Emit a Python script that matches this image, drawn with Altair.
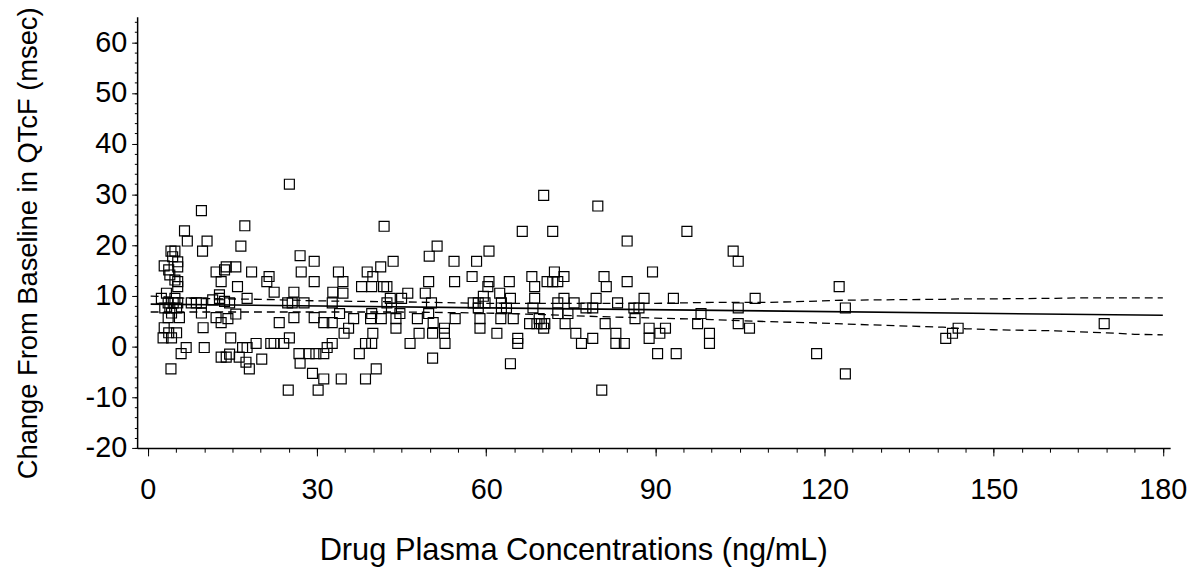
import altair as alt
import pandas as pd

# ---- data ----
conc = [
    # 0-15 ng/mL
    9.5, 6.5, 7.0, 10.5, 9.7, 4.1, 4.8, 4.4, 5.3, 2.9, 5.3, 3.7, 3.9, 4.8, 5.3, 5.3, 3.3, 2.4, 4.8,
    3.6, 4.5, 5.3, 3.0, 3.9, 5.1, 4.2, 5.6, 3.6, 2.9, 3.7, 5.1, 2.7, 4.2, 6.8, 5.9, 4.1, 10.0, 9.8,
    7.7, 8.6, 9.5, 11.5, 12.7, 13.6, 12.7, 12.1, 13.0, 9.5, 13.6, 12.1, 13.0, 13.9, 13.0, 13.9, 14.5, 14.2,
    # 15-32 ng/mL
    25.1, 17.2, 16.5, 27.0, 29.5, 15.6, 18.4, 27.2, 21.5, 21.1, 29.5, 15.9, 22.4, 25.9, 32.8, 17.6,
    24.8, 25.6, 27.7, 32.7, 14.5, 15.6, 25.9, 23.3, 29.5, 31.2, 14.7, 16.8, 17.6, 19.2, 21.8, 22.4,
    24.1, 25.1, 16.2, 20.2, 17.4, 18.0, 26.8, 28.6, 29.8, 31.2, 31.8, 27.0, 29.2, 31.2, 24.9, 30.2,
    # 32-65 ng/mL
    41.9, 51.3, 49.9, 60.5, 43.5, 41.3, 33.8, 38.9, 54.3, 58.3, 39.9, 34.6, 37.9, 39.7, 41.8, 42.4,
    49.8, 54.4, 57.5, 60.5, 64.1, 60.3, 34.6, 46.1, 49.2, 62.4, 64.3, 43.0, 45.0, 59.5, 42.4, 50.3,
    57.7, 58.6, 59.8, 62.7, 58.6, 62.7, 63.6, 34.0, 39.7, 43.2, 49.8, 44.7, 32.7, 36.5, 39.5, 41.4,
    44.0, 44.0, 47.8, 50.6, 54.5, 58.9, 58.9, 62.6, 64.8, 35.6, 34.8, 39.9, 48.1, 50.5, 52.6, 52.6,
    61.9, 32.7, 38.6, 39.7, 46.5, 52.7, 37.5, 50.5, 64.3, 40.5, 34.3, 38.6,
    # 65-100 ng/mL
    70.2, 79.8, 66.4, 71.8, 95.6, 85.0, 89.5, 72.1, 68.1, 73.8, 80.9, 70.8, 71.8, 72.7, 68.6, 81.3,
    85.0, 68.6, 73.8, 79.5, 88.0, 93.2, 72.7, 75.6, 83.3, 68.3, 77.7, 78.9, 86.2, 87.1, 72.7, 74.5,
    98.1, 69.4, 86.4, 67.7, 69.0, 69.8, 70.4, 70.2, 74.0, 81.1, 97.5, 75.9, 83.0, 88.9, 88.9, 91.8,
    90.8, 65.6, 65.6, 76.9, 78.9, 83.0, 84.5, 90.4, 93.7, 80.5, 99.6, 99.6,
    # > 100 ng/mL
    103.8, 104.7, 122.6, 107.7, 104.7, 123.7, 104.7, 106.7, 118.6, 123.7, 141.5, 142.7, 143.7, 169.6,
]
qtcf = [
    # 0-15 ng/mL
    26.8, 22.8, 20.8, 20.8, 18.8, 18.8, 18.8, 17.7, 16.7, 15.9, 15.7, 15.1, 14.1, 13.1, 12.8, 11.8, 10.5, 9.5, 9.5,
    8.6, 8.6, 8.6, 7.6, 7.6, 7.6, 6.6, 5.7, 5.7, 3.7, 2.7, 2.7, 1.7, 1.7, -0.2, -1.4, -4.4, -0.2, 3.7,
    8.6, 8.6, 8.6, 9.2, 9.5, 8.9, 10.2, 5.7, 4.7, 6.6, 15.1, 14.7, 12.8, 15.7, -2.1, -2.1, -1.5, 5.5,
    # 15-32 ng/mL
    32.0, 23.8, 19.8, 17.9, 16.8, 15.7, 14.7, 14.7, 13.8, 12.8, 12.8, 11.8, 10.7, 10.7, 10.7, 9.5,
    8.6, 8.6, 8.6, 8.6, 8.6, 6.4, 5.7, 4.7, 5.7, 4.7, 1.7, -0.2, -0.2, 0.6, 0.6, 0.6,
    0.6, 1.7, -2.1, -2.5, -3.1, -4.4, -1.4, -1.4, -1.4, -1.4, -0.2, -3.3, -5.3, -6.4, -8.6, -8.6,
    # 32-65 ng/mL
    23.7, 19.8, 17.8, 18.8, 16.8, 15.7, 14.7, 14.7, 16.8, 16.8, 13.8, 12.8, 11.8, 11.8, 11.8, 11.8,
    12.8, 12.8, 13.8, 12.8, 12.8, 11.8, 10.5, 10.5, 10.5, 10.5, 9.5, 9.5, 9.5, 9.9, 8.6, 8.6,
    8.6, 8.6, 8.6, 8.6, 7.6, 7.6, 7.6, 6.5, 6.5, 7.6, 6.5, 6.5, 4.7, 5.5, 5.5, 5.5,
    5.5, 3.6, 5.5, 4.7, 5.5, 5.5, 3.6, 5.5, 5.5, 3.6, 2.6, 2.6, 2.6, 2.6, 2.6, 3.6,
    2.6, 0.6, 0.6, 0.6, 0.6, 0.6, -1.4, -2.3, -3.4, -4.4, -6.4, -6.4,
    # 65-100 ng/mL
    29.8, 27.7, 22.7, 22.7, 22.7, 20.8, 14.7, 14.7, 13.8, 13.8, 13.8, 12.8, 12.8, 12.8, 11.8, 11.8,
    12.8, 9.5, 9.5, 9.5, 9.5, 9.5, 8.6, 8.6, 8.6, 7.6, 7.6, 7.6, 7.6, 7.6, 6.5, 6.5,
    6.5, 5.5, 5.5, 4.5, 4.5, 4.5, 4.5, 3.6, 4.5, 4.5, 4.5, 2.6, 2.6, 3.6, 1.6, 3.6,
    2.6, 1.6, 0.6, 0.6, 1.6, 0.6, 0.6, -1.4, -1.4, -8.6, 2.6, 0.6,
    # > 100 ng/mL
    18.8, 16.8, 11.8, 9.5, 7.6, 7.6, 4.5, 3.6, -1.4, -5.4, 1.6, 2.6, 3.6, 4.5,
]

# fitted line and its confidence band
reg_conc = [0.5, 180]
reg_qtcf = [8.35, 6.15]
ci_conc = [0.5, 3, 7, 20, 30, 45, 60, 70, 80, 90, 100, 110, 117, 122, 130, 141, 145, 150, 161, 165, 170, 175, 180]
ci_upper = [9.95, 9.8, 9.5, 9.3, 9.0, 8.8, 8.5, 8.5, 8.5, 8.5, 8.7, 8.7, 8.9, 9.1, 9.2, 9.3, 9.4, 9.4, 9.5, 9.6, 9.6, 9.6, 9.6]
ci_lower = [6.8, 6.8, 6.8, 6.8, 6.8, 6.8, 6.6, 6.3, 5.9, 5.6, 5.3, 4.9, 4.7, 4.5, 4.2, 3.8, 3.5, 3.3, 3.1, 2.9, 2.7, 2.4, 2.3]

x_major = [0, 30, 60, 90, 120, 150, 180]
x_minor = list(range(0, 181, 5))
y_major = [-20, -10, 0, 10, 20, 30, 40, 50, 60]
y_minor = list(range(-20, 65, 2))

x_title = "Drug Plasma Concentrations (ng/mL)"
y_title = "Change From Baseline in QTcF (msec)"

# ---- tables ----
pts = pd.DataFrame({"conc": conc, "qtcf": qtcf})
reg = pd.DataFrame({"conc": reg_conc, "qtcf": reg_qtcf})
n = len(ci_conc)
ci = pd.DataFrame({
    "conc": ci_conc + ci_conc,
    "qtcf": ci_upper + ci_lower,
    "bound": ["upper"] * n + ["lower"] * n,
})

FONT = "Liberation Sans"
xscale = alt.Scale(domain=[-1.9, 181.3], nice=False, zero=False)
yscale = alt.Scale(domain=[-20, 65], nice=False, zero=False)

x_axis_major = alt.Axis(
    values=x_major, title=x_title, grid=False, orient="bottom",
    tickSize=8, tickWidth=1, domainWidth=1.5,
    labelFontSize=29, labelPadding=43, labelBaseline="alphabetic",
    labelExpr="'' + datum.value",
    titleFontSize=31, titleFontWeight="normal", titleX=439, titleY=112.7,
    titleBaseline="alphabetic", titleAlign="center",
)
y_axis_major = alt.Axis(
    values=y_major, title=y_title, grid=False, orient="left",
    tickSize=5.5, tickWidth=1, domainWidth=1.5,
    labelFontSize=29, labelPadding=5,
    labelExpr="'' + datum.value",
    titleFontSize=27.5, titleFontWeight="normal", titleX=-101, titleY=227.5,
    titleAngle=270, titleBaseline="alphabetic", titleAlign="center",
)
x_axis_minor = alt.Axis(values=x_minor, title="", labels=False, domain=False,
                        grid=False, orient="bottom", tickSize=4.3, tickWidth=1)
y_axis_minor = alt.Axis(values=y_minor, title="", labels=False, domain=False,
                        grid=False, orient="left", tickSize=2.8, tickWidth=1)

points = alt.Chart(pts).mark_point(
    shape="square", size=100, filled=False, color="black", strokeWidth=1.2, opacity=1
).encode(
    x=alt.X("conc:Q", scale=xscale, axis=x_axis_major),
    y=alt.Y("qtcf:Q", scale=yscale, axis=y_axis_major),
)

line = alt.Chart(reg).mark_line(color="black", strokeWidth=1.6).encode(
    x=alt.X("conc:Q", scale=xscale, axis=x_axis_minor),
    y=alt.Y("qtcf:Q", scale=yscale, axis=y_axis_minor),
)

band = alt.Chart(ci).mark_line(color="black", strokeWidth=1.3, strokeDash=[8, 5]).encode(
    x=alt.X("conc:Q", scale=xscale, axis=None),
    y=alt.Y("qtcf:Q", scale=yscale, axis=None),
    detail="bound:N",
)

chart = alt.layer(points, band, line).resolve_axis(
    x="independent", y="independent"
).properties(
    width=1040, height=434,
    autosize=alt.AutoSizeParams(type="none"),
    padding={"left": 130, "top": 7, "right": 24, "bottom": 122},
    background="white",
).configure_view(stroke=None).configure_axis(
    labelFont=FONT, titleFont=FONT, labelColor="black", titleColor="black",
    domainColor="black", tickColor="black",
)

chart.save("out.html", embed_options={"renderer": "svg", "actions": False})
